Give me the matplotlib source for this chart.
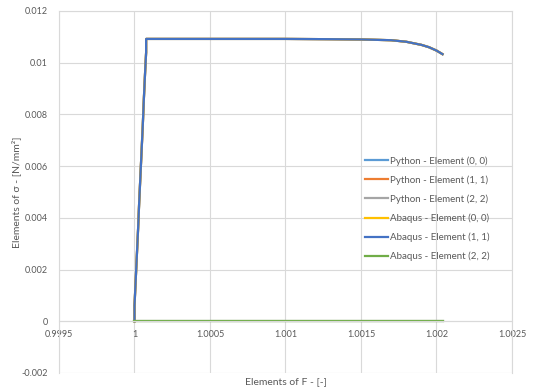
import matplotlib
matplotlib.use("Agg")
from matplotlib import pyplot as plt

plt.rcParams['font.family'] = ['Lato', 'DejaVu Sans']

# deformation gradient component (same for all series)
F_vals = [1.0, 1.0, 1.000008, 1.000016, 1.000024, 1.000031, 1.000039,
          1.000047, 1.000055, 1.000062, 1.000070, 1.000077, 1.000077,
          1.0005, 1.001, 1.0013, 1.0015, 1.0017, 1.0018, 1.0019,
          1.00195, 1.0020, 1.00204]
# stress (0,0) and (1,1)
sigma_diag = [0.0, 0.0006, 0.0016, 0.0026, 0.0036, 0.0046, 0.0056,
              0.0066, 0.0076, 0.0086, 0.0096, 0.0104, 0.01092,
              0.01092, 0.01092, 0.01091, 0.01090, 0.01087, 0.01081, 0.01069,
              0.01060, 0.01047, 0.01033]
# stress (2,2)
sigma_zz = [0.0] * len(F_vals)

labels = ["Python - Element (0, 0)", "Python - Element (1, 1)", "Python - Element (2, 2)",
          "Abaqus - Element (0, 0)", "Abaqus - Element (1, 1)", "Abaqus - Element (2, 2)"]
colors = ["#5B9BD5", "#ED7D31", "#A5A5A5", "#FFC000", "#4472C4", "#70AD47"]
series = [sigma_diag, sigma_diag, sigma_zz, sigma_diag, sigma_diag, sigma_zz]

fig = plt.figure(figsize=(5.38, 3.92), dpi=100)
ax = fig.add_axes([59/538, 1-373/392, 453/538, 362/392])

for s, lab, c in zip(series, labels, colors):
    ax.plot(F_vals, s, color=c, lw=1.6, label=lab)

ax.set_xlim(0.9995, 1.0025)
ax.set_ylim(-0.002, 0.012)
ax.set_xticks([0.9995, 1, 1.0005, 1.001, 1.0015, 1.002, 1.0025])
ax.set_xticklabels(["0.9995", "1", "1.0005", "1.001", "1.0015", "1.002", "1.0025"])
ax.set_yticks([-0.002, 0, 0.002, 0.004, 0.006, 0.008, 0.01, 0.012])
ax.set_yticklabels(["-0.002", "0", "0.002", "0.004", "0.006", "0.008", "0.01", "0.012"])

gc = "#D9D9D9"
ax.grid(True, color=gc, lw=0.8)
ax.set_axisbelow(True)
for sp in ['left', 'top', 'right']:
    ax.spines[sp].set_color(gc)
    ax.spines[sp].set_linewidth(0.8)
ax.spines['bottom'].set_position(('data', 0))
ax.spines['bottom'].set_color(gc)
ax.spines['bottom'].set_linewidth(0.8)
ax.tick_params(length=0, labelsize=6.5, labelcolor="#595959")
ax.tick_params(axis='x', pad=6)
ax.tick_params(axis='y', pad=8)

ax.set_xlabel("Elements of F - [-]", fontsize=7.5, color="#595959")
ax.xaxis.set_label_coords(0.5, -0.012)
ax.set_ylabel("Elements of σ - [N/mm²]", fontsize=7.5, color="#595959")
ax.yaxis.set_label_coords(-0.083, 0.5)

ax.legend(loc='upper left', bbox_to_anchor=(365/538, 1-156/392), bbox_transform=fig.transFigure,
          frameon=False, fontsize=7, labelcolor="#595959", handlelength=2.4,
          handletextpad=0.22, labelspacing=0.99, borderpad=0, borderaxespad=0)

fig.savefig("out.png", dpi=100)
